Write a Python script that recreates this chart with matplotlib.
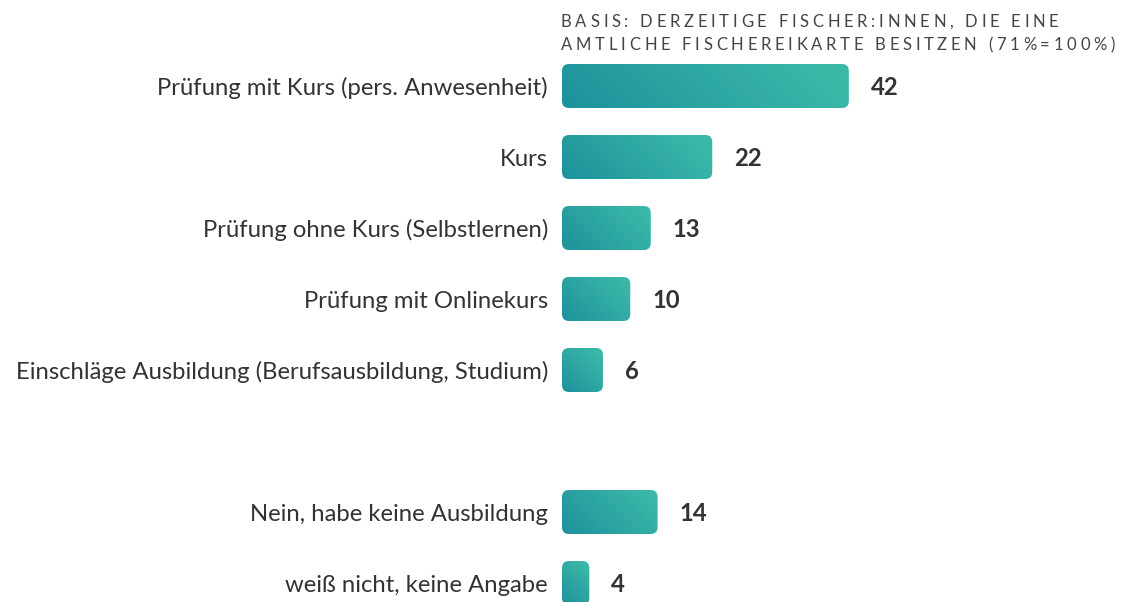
import numpy as np
import matplotlib.pyplot as plt
from matplotlib.patches import FancyBboxPatch
from matplotlib.colors import LinearSegmentedColormap
from matplotlib.font_manager import FontProperties
from matplotlib.textpath import TextToPath

plt.rcParams['font.family'] = ['Lato', 'DejaVu Sans']

# data
labels = ['Prüfung mit Kurs (pers. Anwesenheit)', 'Kurs', 'Prüfung ohne Kurs (Selbstlernen)',
          'Prüfung mit Onlinekurs', 'Einschläge Ausbildung (Berufsausbildung, Studium)',
          'Nein, habe keine Ausbildung', 'weiß nicht, keine Angabe']
values = [42, 22, 13, 10, 6, 14, 4]
rows = [0, 1, 2, 3, 4, 6, 7]
header = ['BASIS: DERZEITIGE FISCHER:INNEN, DIE EINE',
          'AMTLICHE FISCHEREIKARTE BESITZEN (71%=100%)']

W, H = 1123, 602
fig = plt.figure(figsize=(W / 100, H / 100), dpi=100)
ax = fig.add_axes([0, 0, 1, 1])

px_x = 6.83   # pixels per percent
px_y = 71     # pixels per row
x0 = 562      # bar start in pixels
y0 = 86       # first row centre in pixels from top
ax.set_xlim(-x0 / px_x, (W - x0) / px_x)
ax.set_ylim((H - y0) / px_y, -y0 / px_y)
ax.axis('off')

cmap = LinearSegmentedColormap.from_list(
    'teal', [(0, '#1c929c'), (0.88, '#3bb7a8'), (1, '#3cb9a9')])
bar_h = 44 / px_y
radius = 7 / px_x
aspect = (1 / px_y) / (1 / px_x)
base_off = 9 / px_y

for lab, v, r in zip(labels, values, rows):
    top = r - bar_h / 2
    patch = FancyBboxPatch((0, top), v, bar_h,
                           boxstyle=f'round,pad=0,rounding_size={radius}',
                           mutation_aspect=aspect, facecolor='none', edgecolor='none')
    ax.add_patch(patch)
    # 45 degree gradient in pixel space: dark bottom-left, light top-right
    w_px, h_px = v * px_x, 44
    u = np.linspace(0, w_px, 300)
    w = np.linspace(h_px, 0, 50)   # image row 0 is the top
    uu, ww = np.meshgrid(u, w)
    grad = (uu + ww) / (w_px + h_px)
    im = ax.imshow(grad, cmap=cmap, extent=[0, v, r + bar_h / 2, top],
                   aspect='auto', interpolation='bilinear', vmin=0, vmax=1)
    im.set_clip_path(patch)
    ax.text(-14 / px_x, r + base_off, lab, ha='right', va='baseline', fontsize=17.2,
            color='#333333')
    ax.text(v + 22 / px_x, r + base_off, str(v), ha='left', va='baseline', fontsize=17.2,
            fontweight='bold', color='#333333')

ax.set_xlim(-x0 / px_x, (W - x0) / px_x)
ax.set_ylim((H - y0) / px_y, -y0 / px_y)

# letter-spaced header
prop = FontProperties(family='Lato', size=12)
t2p = TextToPath()


def text_width(s):
    if not s:
        return 0.0
    w, h, d = t2p.get_text_width_height_descent(s, prop, ismath=False)
    return w * 100 / 72


target = 1116 - x0
nat = text_width(header[1])
track = (target - nat) / (len(header[1]) - 1)
for line, base in zip(header, [27, 50]):
    for i, ch in enumerate(line):
        xp = x0 - 1 + text_width(line[:i]) + i * track
        fig.text(xp / W, 1 - base / H, ch, ha='left', va='baseline',
                 fontproperties=prop, color='#444444')

fig.savefig('out.png', dpi=100)
